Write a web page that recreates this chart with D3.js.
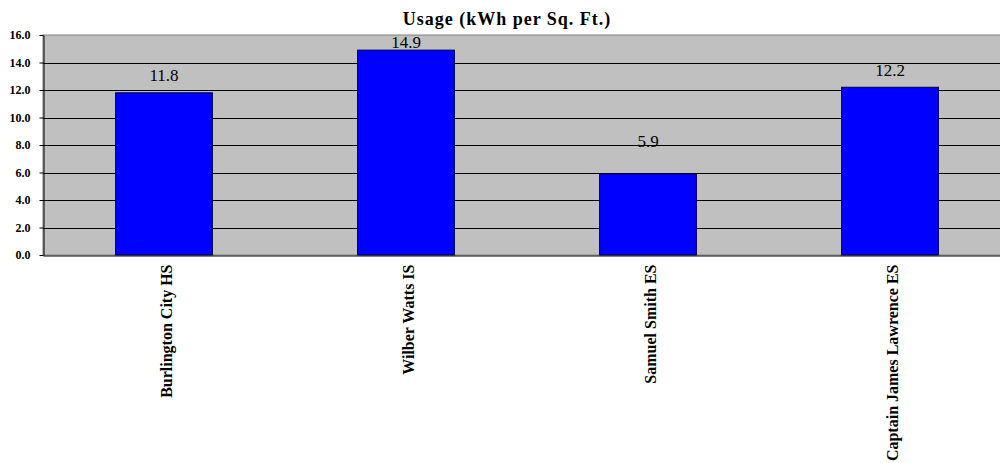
<!DOCTYPE html>
<html>
<head>
<meta charset="utf-8">
<script src="https://cdn.jsdelivr.net/npm/d3@7"></script>
<style>
  body { margin: 0; background: #fff; }
  svg text { font-family: "Liberation Serif", "Times New Roman", serif; }
</style>
</head>
<body>
<div id="chart"></div>
<script>
var schools = ["Burlington City HS", "Wilber Watts IS", "Samuel Smith ES", "Captain James Lawrence ES"];
var usage = [11.8, 14.9, 5.9, 12.2];
var yTicks = [0, 2, 4, 6, 8, 10, 12, 14, 16];

// label offsets above the bar top, as the original places them
var labelLift = [12, 2, 27, 11];

var width = 1000, height = 463;
var plot = {left: 43, top: 35, bottom: 255, right: 1011};

var svg = d3.select("#chart").append("svg")
  .attr("width", width)
  .attr("height", height);

var x = d3.scaleBand()
  .domain(schools)
  .range([plot.left, plot.right])
  .paddingInner(0.6)
  .paddingOuter(0.3);

var y = d3.scaleLinear()
  .domain([0, 16])
  .range([plot.bottom, plot.top]);

// plot background
svg.append("rect")
  .attr("x", plot.left)
  .attr("y", plot.top)
  .attr("width", plot.right - plot.left)
  .attr("height", plot.bottom - plot.top)
  .attr("fill", "#c0c0c0")
  .attr("stroke", "#808080")
  .attr("stroke-width", 1);

// gridlines
svg.append("g")
  .selectAll("line")
  .data(yTicks.filter(function(d){ return d > 0 && d < 16; }))
  .enter()
  .append("line")
  .attr("x1", plot.left)
  .attr("x2", plot.right)
  .attr("y1", function(d){ return Math.round(y(d)) + 0.5; })
  .attr("y2", function(d){ return Math.round(y(d)) + 0.5; })
  .attr("stroke", "#000")
  .attr("stroke-width", 1);

// bars
svg.append("g")
  .selectAll("rect")
  .data(usage)
  .enter()
  .append("rect")
  .attr("x", function(d, i){ return x(schools[i]); })
  .attr("y", function(d){ return y(d); })
  .attr("width", x.bandwidth())
  .attr("height", function(d){ return y(0) - y(d); })
  .attr("fill", "#0000ff")
  .attr("stroke", "#000040")
  .attr("stroke-width", 1);

// value labels
svg.append("g")
  .selectAll("text")
  .data(usage)
  .enter()
  .append("text")
  .attr("x", function(d, i){ return x(schools[i]) + x.bandwidth() / 2; })
  .attr("y", function(d, i){ return y(d) - labelLift[i]; })
  .attr("text-anchor", "middle")
  .attr("font-size", "17px")
  .attr("fill", "#000")
  .text(function(d){ return d.toFixed(1); });

// y axis
var yAxis = d3.axisLeft(y)
  .tickValues(yTicks)
  .tickFormat(d3.format(".1f"))
  .tickSize(4)
  .tickSizeOuter(0);

var gy = svg.append("g")
  .attr("transform", "translate(" + (plot.left + 0.5) + ",0)")
  .call(yAxis);
gy.select(".domain").attr("stroke", "#000");
gy.selectAll(".tick line").attr("stroke", "#000");
gy.selectAll(".tick text")
  .attr("font-size", "12px")
  .attr("font-weight", "bold")
  .attr("font-family", "Liberation Serif, serif")
  .attr("fill", "#000")
  .attr("x", -13);

// x axis baseline
var xAxis = d3.axisBottom(x).tickSize(0).tickSizeOuter(0);
var gx = svg.append("g")
  .attr("transform", "translate(0," + (plot.bottom + 0.5) + ")")
  .call(xAxis);
gx.select(".domain").attr("stroke", "#000");
gx.selectAll(".tick text")
  .attr("font-size", "16px")
  .attr("font-weight", "bold")
  .attr("font-family", "Liberation Serif, serif")
  .attr("fill", "#000")
  .attr("transform", "rotate(-90)")
  .attr("text-anchor", "end")
  .attr("x", -9)
  .attr("y", 2)
  .attr("dy", "0.35em");

// title
svg.append("text")
  .attr("x", 507)
  .attr("y", 25)
  .attr("text-anchor", "middle")
  .attr("font-size", "18px")
  .attr("font-weight", "bold")
  .attr("letter-spacing", "1px")
  .text("Usage (kWh per Sq. Ft.)");
</script>
</body>
</html>
